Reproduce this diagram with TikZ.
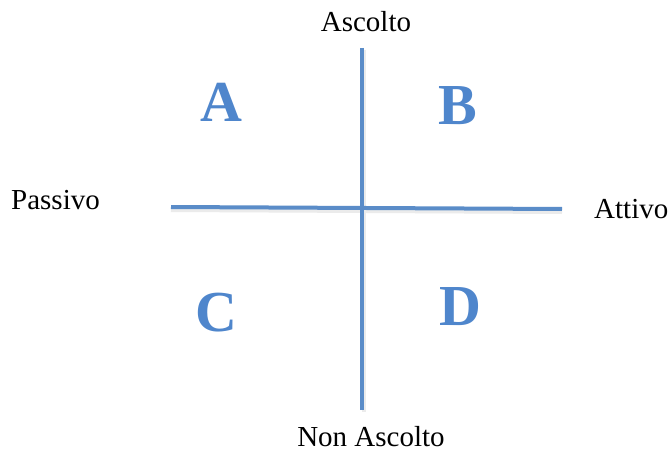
\documentclass[tikz,border=0pt]{standalone}
\usepackage{fontspec}
\setmainfont{Liberation Serif}
\definecolor{axisblue}{HTML}{5A8CC8}
\definecolor{letterblue}{HTML}{4F86CC}
\begin{document}
\begin{tikzpicture}[x=1pt,y=-1pt,
  axis/.style={line width=4pt,axisblue},
  shadowline/.style={line width=4pt,black!8},
  lbl/.style={font=\fontsize{29}{31}\selectfont,inner sep=0pt},
  big/.style={font=\fontsize{58}{60}\selectfont\bfseries,text=letterblue,inner sep=0pt}]
\useasboundingbox[fill=white] (0,0) rectangle (670,452);
\coordinate (vt) at (362,48);
\coordinate (vb) at (362,410);
\coordinate (hl) at (171,207);
\coordinate (hr) at (562,209);
\draw[shadowline] ([shift={(2,2)}]vt) -- ([shift={(2,2)}]vb);
\draw[shadowline] ([shift={(0,3)}]hl) -- ([shift={(0,3)}]hr);
\draw[axis] (vt) -- (vb);
\draw[axis] (hl) -- (hr);
\node[lbl] (asc) at (366,22) {Ascolto};
\node[lbl] (nasc) at (371,437) {Non Ascolto};
\node[lbl,anchor=west] (pas) at (11,200) {Passivo};
\node[lbl,anchor=west] (att) at (594,209) {Attivo};
\node[big] (A) at (221,102) {A};
\node[big] (B) at (457.5,106) {B};
\node[big] (C) at (216,313) {C};
\node[big] (D) at (460,306.5) {D};
\end{tikzpicture}
\end{document}
